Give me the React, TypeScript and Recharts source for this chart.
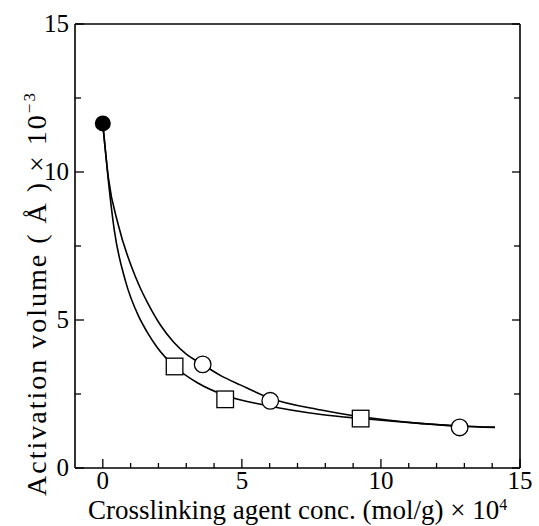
import React from "react";
import { ComposedChart, Line, Scatter, XAxis, YAxis, Label } from "recharts";

const FONT = "Liberation Serif, Times New Roman, serif";

// axis ticks
const xTicks = [0, 1, 2, 3, 4, 5, 6, 7, 8, 9, 10, 11, 12, 13, 14, 15];
const yTicks = [0, 2.5, 5, 7.5, 10, 12.5, 15];

// fitted curves
const upperX = [0, 0.2, 0.56, 1.2, 1.77, 2.07, 2.55, 3.0, 3.59, 4.24, 4.96, 6.02, 7.85, 9.3, 11.5, 12.83, 14.1];
const upperY = [11.62, 9.8, 8.2, 6.4, 5.3, 4.83, 4.25, 3.85, 3.5, 3.12, 2.8, 2.36, 1.96, 1.73, 1.5, 1.41, 1.37];
const lowerX = [0, 0.2, 0.41, 0.81, 1.29, 1.59, 1.95, 2.58, 3.4, 4.4, 5.8, 7.85, 9.3, 11.5, 12.83, 14.1];
const lowerY = [11.62, 9.7, 8.05, 6.33, 5.12, 4.6, 4.08, 3.43, 2.88, 2.45, 2.13, 1.81, 1.67, 1.5, 1.42, 1.38];

// measured points
const filledX = [0];
const filledY = [11.64];
const circleX = [3.59, 6.02, 12.83];
const circleY = [3.5, 2.27, 1.37];
const squareX = [2.58, 4.4, 9.27];
const squareY = [3.43, 2.32, 1.67];

const zip = (xs: number[], ys: number[]) => xs.map((x, i) => ({ x, y: ys[i] }));

const upperData = zip(upperX, upperY);
const lowerData = zip(lowerX, lowerY);
const filledData = zip(filledX, filledY);
const circleData = zip(circleX, circleY);
const squareData = zip(squareX, squareY);

const BottomTick = (props: any) => {
  const { x, y, payload } = props;
  const v = payload.value;
  const major = v % 5 === 0;
  return (
    <g>
      <line x1={x} y1={y} x2={x} y2={y - (major ? 9 : 5)} stroke="#000" strokeWidth={1.3} />
      {major && (
        <text x={x} y={y + 21} textAnchor="middle" fontSize={25} fontFamily={FONT} fill="#000">
          {v}
        </text>
      )}
    </g>
  );
};

const TopTick = (props: any) => {
  const { x, y, payload } = props;
  const major = payload.value % 5 === 0;
  return <line x1={x} y1={y} x2={x} y2={y + (major ? 9 : 5)} stroke="#000" strokeWidth={1.3} />;
};

const LeftTick = (props: any) => {
  const { x, y, payload } = props;
  const v = payload.value;
  const major = v % 5 === 0;
  return (
    <g>
      <line x1={x} y1={y} x2={x + (major ? 9 : 6)} y2={y} stroke="#000" strokeWidth={1.3} />
      {major && (
        <text x={x - 6} y={y + 8} textAnchor="end" fontSize={25} fontFamily={FONT} fill="#000">
          {v}
        </text>
      )}
    </g>
  );
};

const RightTick = (props: any) => {
  const { x, y, payload } = props;
  const major = payload.value % 5 === 0;
  return <line x1={x} y1={y} x2={x - (major ? 8 : 6)} y2={y} stroke="#000" strokeWidth={1.3} />;
};

const FilledDot = (props: any) => <circle cx={props.cx} cy={props.cy} r={8} fill="#000" />;
const OpenDot = (props: any) => (
  <circle cx={props.cx} cy={props.cy} r={8.3} fill="#fff" stroke="#000" strokeWidth={1.3} />
);
const OpenSquare = (props: any) => (
  <rect x={props.cx - 8.3} y={props.cy - 8.3} width={16.6} height={16.6} fill="#fff" stroke="#000" strokeWidth={1.3} />
);

const axisLine = { stroke: "#000", strokeWidth: 1.6 };

export default function App() {
  return (
    <div style={{ position: "absolute", left: 0, top: 0, width: 539, height: 526, background: "#fff" }}>
      <ComposedChart width={539} height={526} margin={{ top: 14, right: 9, bottom: 28, left: 35 }}>
        <XAxis
          xAxisId="b"
          type="number"
          dataKey="x"
          domain={[-1, 15]}
          ticks={xTicks}
          interval={0}
          height={30}
          tickSize={0}
          tickMargin={0}
          tickLine={false}
          axisLine={axisLine}
          tick={<BottomTick />}
          allowDataOverflow
        >
          <Label
            content={() => (
              <text x={88} y={519} textAnchor="start" fontSize={27} fontFamily={FONT} fill="#000">
                Crosslinking agent conc. (mol/g) × 10
                <tspan fontSize={16} dy={-9}>4</tspan>
              </text>
            )}
          />
        </XAxis>
        <XAxis
          xAxisId="t"
          orientation="top"
          type="number"
          domain={[-1, 15]}
          ticks={xTicks}
          interval={0}
          height={10}
          tickSize={0}
          tickMargin={0}
          tickLine={false}
          axisLine={axisLine}
          tick={<TopTick />}
          allowDataOverflow
        />
        <YAxis
          yAxisId="l"
          type="number"
          domain={[0, 15]}
          ticks={yTicks}
          interval={0}
          width={40}
          tickSize={0}
          tickMargin={0}
          tickLine={false}
          axisLine={axisLine}
          tick={<LeftTick />}
          allowDataOverflow
        >
          <Label
            content={() => (
              <text
                x={46}
                y={496}
                transform="rotate(-90 46 496)"
                textAnchor="start"
                fontSize={28}
                letterSpacing={2}
                fontFamily={FONT}
                fill="#000"
              >
                Activation volume ( Å ) × 10
                <tspan fontSize={17} dy={-11}>−3</tspan>
              </text>
            )}
          />
        </YAxis>
        <YAxis
          yAxisId="r"
          orientation="right"
          type="number"
          domain={[0, 15]}
          ticks={yTicks}
          interval={0}
          width={10}
          tickSize={0}
          tickMargin={0}
          tickLine={false}
          axisLine={axisLine}
          tick={<RightTick />}
          allowDataOverflow
        />
        <Line
          xAxisId="b"
          yAxisId="l"
          data={upperData}
          dataKey="y"
          type="monotone"
          stroke="#000"
          strokeWidth={1.6}
          dot={false}
          isAnimationActive={false}
        />
        <Line
          xAxisId="b"
          yAxisId="l"
          data={lowerData}
          dataKey="y"
          type="monotone"
          stroke="#000"
          strokeWidth={1.6}
          dot={false}
          isAnimationActive={false}
        />
        <Scatter xAxisId="b" yAxisId="l" data={filledData} dataKey="y" shape={<FilledDot />} isAnimationActive={false} />
        <Scatter xAxisId="b" yAxisId="l" data={circleData} dataKey="y" shape={<OpenDot />} isAnimationActive={false} />
        <Scatter xAxisId="b" yAxisId="l" data={squareData} dataKey="y" shape={<OpenSquare />} isAnimationActive={false} />
      </ComposedChart>
    </div>
  );
}
